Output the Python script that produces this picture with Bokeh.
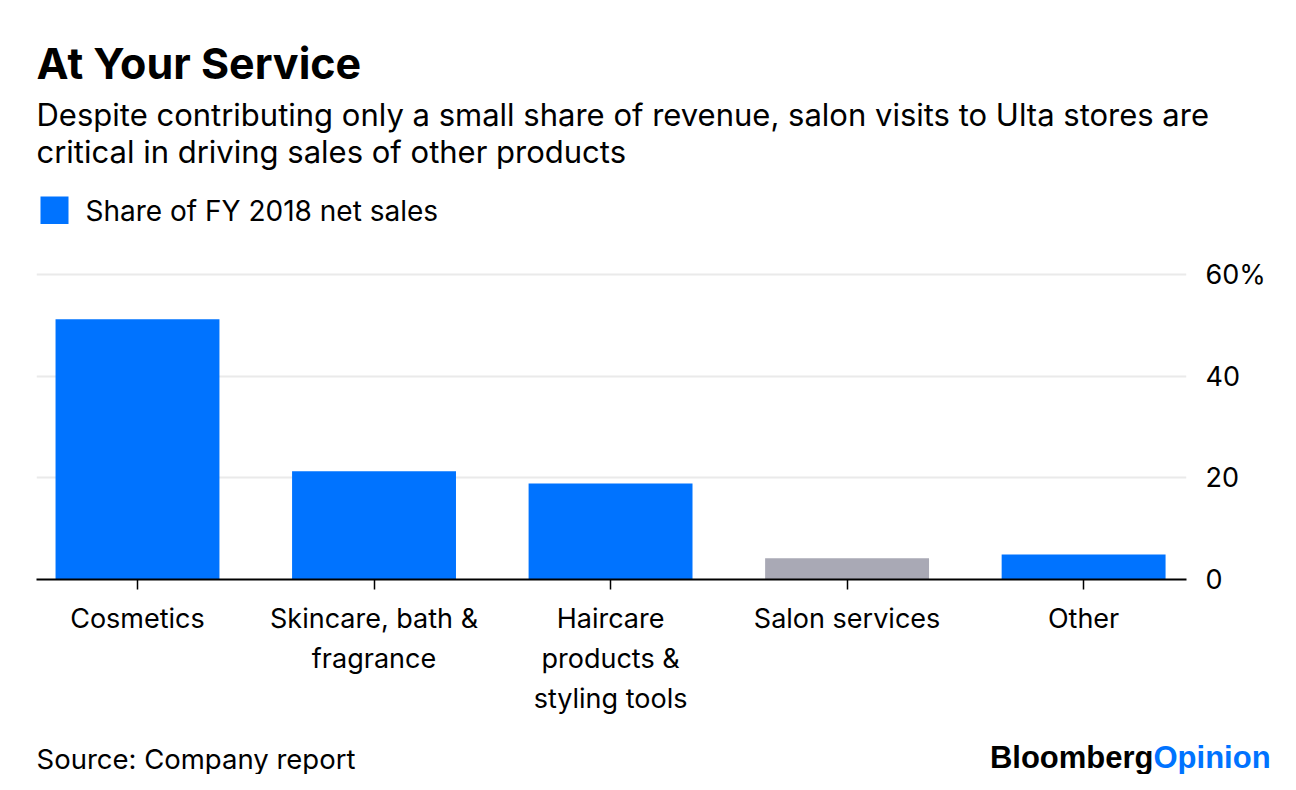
from bokeh.plotting import figure
from bokeh.models import Range1d, FixedTicker, ColumnDataSource
from bokeh.layouts import column
from bokeh.embed import file_html
from bokeh.resources import INLINE
from bokeh.core.properties import value

# ---- data ----
categories = ["Cosmetics", "Skincare, bath &\nfragrance", "Haircare\nproducts &\nstyling tools",
              "Salon services", "Other"]
shares = [51.2, 21.3, 18.9, 4.2, 4.9]
bar_colors = ["#0073FF", "#0073FF", "#0073FF", "#A9A9B5", "#0073FF"]
y_ticks = [0, 20, 40, 60]
y_tick_labels = {0: "0", 20: "20", 40: "40", 60: "60%"}

title = "At Your Service"
subtitle = ["Despite contributing only a small share of revenue, salon visits to Ulta stores are",
            "critical in driving sales of other products"]
legend_label = "Share of FY 2018 net sales"
source_note = "Source: Company report"

FONT = "Inter"
BLUE = "#0073FF"

W = 1280


def blank(h, y0, y1):
    f = figure(width=W, height=h, x_range=Range1d(0, W), y_range=Range1d(y1, y0),
               output_backend="svg", toolbar_location=None, min_border=0,
               x_axis_type=None, y_axis_type=None, outline_line_color=None,
               frame_align=False, title_location=None)
    f.grid.visible = False
    f.background_fill_color = "white"
    f.border_fill_color = "white"
    return f


# ---- header ----
head = blank(250, 0, 250)
head.text(x=[36], y=[62], text=[title], text_font=value(FONT), text_font_size="43px",
          text_font_style="bold", text_color="black", text_baseline="alphabetic")
head.text(x=[36, 36], y=[114, 151], text=subtitle, text_font=value(FONT), text_font_size="31px",
          text_color="black", text_baseline="alphabetic")
head.quad(left=[40], right=[68], top=[196], bottom=[223.5], fill_color=BLUE, line_color=None)
head.text(x=[85], y=[210], text=[legend_label], text_font=value(FONT), text_font_size="28px",
          text_color="black", text_baseline="alphabetic")

# ---- main chart ----
xs = list(range(len(categories)))
src = ColumnDataSource(dict(x=xs, top=shares, color=bar_colors))
p = figure(width=W, height=480, x_range=Range1d(-0.427, 4.435), y_range=Range1d(0, 61.6),
           output_backend="svg", toolbar_location=None, y_axis_location="right",
           min_border_left=36, min_border_right=94, min_border_top=16, min_border_bottom=151,
           outline_line_color=None, frame_align=False, title_location=None)
p.background_fill_color = "white"
p.border_fill_color = "white"
p.vbar(x="x", top="top", bottom=0, width=0.693, fill_color="color", line_color=None, source=src)

p.xgrid.visible = False
p.ygrid.ticker = FixedTicker(ticks=[20, 40, 60])
p.ygrid.grid_line_color = "#EAEAEA"
p.ygrid.grid_line_width = 2

ya = p.yaxis[0]
ya.ticker = FixedTicker(ticks=y_ticks)
ya.major_label_overrides = y_tick_labels
ya.axis_line_color = None
ya.major_tick_line_color = None
ya.minor_tick_line_color = None
ya.major_tick_out = 0
ya.major_tick_in = 0
ya.major_label_standoff = 19
ya.major_label_text_font = FONT
ya.major_label_text_font_size = "27px"
ya.major_label_text_color = "black"

xa = p.xaxis[0]
xa.ticker = FixedTicker(ticks=xs)
xa.major_label_overrides = {i: c for i, c in zip(xs, categories)}
xa.axis_line_color = "black"
xa.axis_line_width = 2
xa.major_tick_line_color = "black"
xa.major_tick_line_width = 1.5
xa.major_tick_out = 10
xa.major_tick_in = 0
xa.minor_tick_line_color = None
xa.major_label_standoff = 12
xa.major_label_text_font = FONT
xa.major_label_text_font_size = "27px"
xa.major_label_text_color = "black"
xa.major_label_text_line_height = 1.22
xa.major_label_orientation = "horizontal"

# ---- footer ----
foot = blank(44, 730, 774)
foot.text(x=[36], y=[758], text=[source_note], text_font=value(FONT), text_font_size="27.5px",
          text_color="black", text_baseline="alphabetic")
foot.text(x=[1153], y=[757], text=["Bloomberg"], text_font=value("Liberation Sans"),
          text_font_size="31px", text_font_style="bold", text_color="black",
          text_baseline="alphabetic", text_align="right")
foot.text(x=[1153], y=[757], text=["Opinion"], text_font=value("Liberation Sans"),
          text_font_size="31px", text_font_style="bold", text_color=BLUE,
          text_baseline="alphabetic", text_align="left")

layout = column(head, p, foot, spacing=0)
open("out.html", "w").write(file_html(layout, INLINE))
